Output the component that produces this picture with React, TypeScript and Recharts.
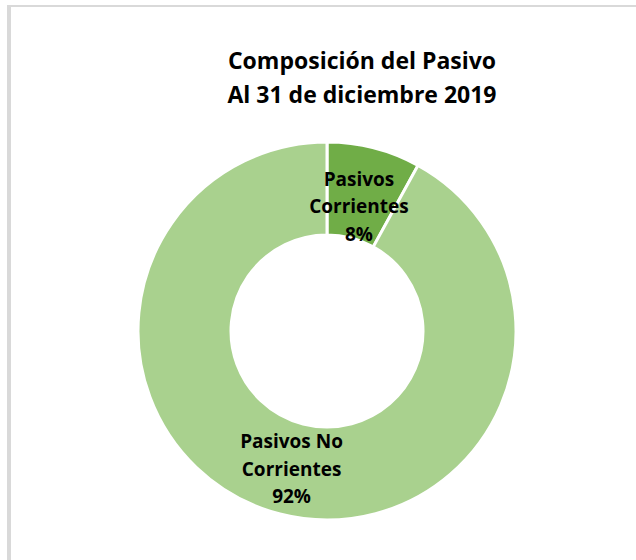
import { Cell, Pie, PieChart } from 'recharts'

const categories = ['Pasivos\nCorrientes', 'Pasivos No\nCorrientes']
const shares = [8, 92]
const colors = ['#70AD47', '#A9D18E']
const titleLines = ['Composición del Pasivo', 'Al 31 de diciembre 2019']

const data = categories.map((name, i) => ({ name, value: shares[i] }))

const FONT = '"Open Sans", Lato, sans-serif'
const RAD = Math.PI / 180

function renderLabel(props: any) {
  const { cx, cy, midAngle, innerRadius, outerRadius, index, name, percent } = props
  const frac = index === 0 ? 0.35 : 0.5
  const r = innerRadius + (outerRadius - innerRadius) * frac
  const x = cx + r * Math.cos(-midAngle * RAD)
  const y = cy + r * Math.sin(-midAngle * RAD)
  const lines = [...String(name).split('\n'), `${Math.round(percent * 100)}%`]
  const lh = 27.5
  return (
    <text x={x} y={y} textAnchor="middle" fontFamily={FONT} fontWeight={700} fontSize={19} fill="#000">
      {lines.map((l, i) => (
        <tspan key={i} x={x} y={y + (i - (lines.length - 1) / 2) * lh} dy="0.35em">
          {l}
        </tspan>
      ))}
    </text>
  )
}

export default function App() {
  return (
    <div style={{ position: 'fixed', left: 0, top: 0, width: 636, height: 560, background: '#fff', overflow: 'hidden' }}>
      <div style={{ position: 'absolute', left: 7, top: 5, right: 0, height: 2, background: '#D9D9D9' }} />
      <div style={{ position: 'absolute', left: 7, top: 5, bottom: 0, width: 4, background: '#D9D9D9' }} />
      <div
        style={{
          position: 'absolute',
          left: 162,
          width: 400,
          top: 43,
          textAlign: 'center',
          fontFamily: FONT,
          fontWeight: 700,
          fontSize: 23,
          lineHeight: '34px',
          color: '#000',
        }}
      >
        {titleLines.map((t) => (
          <div key={t}>{t}</div>
        ))}
      </div>
      <div style={{ position: 'absolute', left: 0, top: 0 }}>
        <PieChart width={636} height={560} margin={{ top: 0, right: 0, bottom: 0, left: 0 }}>
          <Pie
            data={data}
            dataKey="value"
            nameKey="name"
            cx={327}
            cy={331}
            innerRadius={96}
            outerRadius={189}
            startAngle={90}
            endAngle={-270}
            stroke="#fff"
            strokeWidth={3}
            label={renderLabel}
            labelLine={false}
            isAnimationActive={false}
          >
            {data.map((d, i) => (
              <Cell key={d.name} fill={colors[i]} />
            ))}
          </Pie>
        </PieChart>
      </div>
    </div>
  )
}
